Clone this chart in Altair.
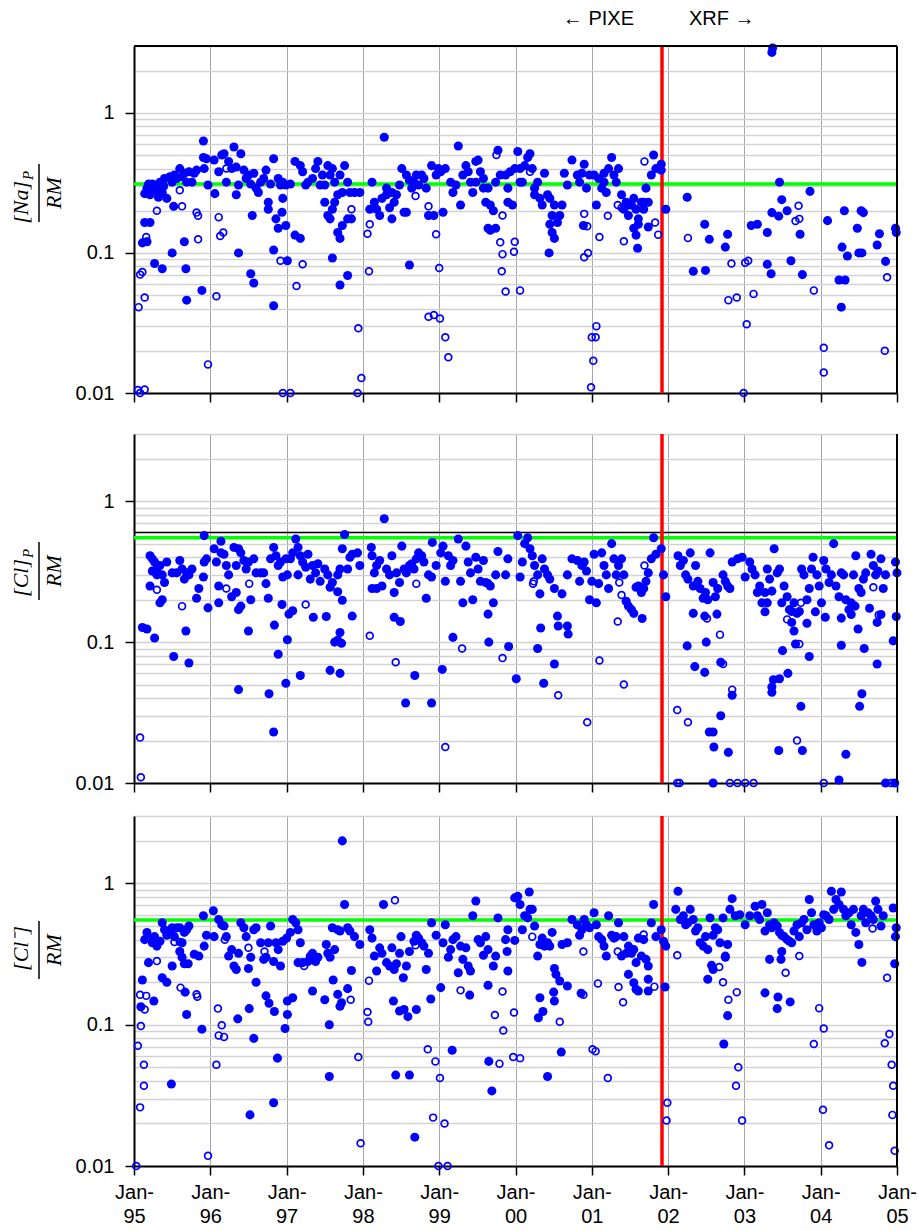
import altair as alt
import pandas as pd

# ---------------- data (decimal year, ratio) ----------------
na_filled = [
    (1995.14, .265), (1995.17, .29), (1995.21, .26), (1995.24, .31), (1995.27, .305), (1995.30, .28),
    (1995.34, .32), (1995.37, .27), (1995.40, .34), (1995.43, .245), (1995.50, .32), (1995.53, .36),
    (1995.60, .40), (1995.63, .35), (1995.66, .37), (1995.72, .38), (1995.76, .32), (1995.82, .39),
    (1995.92, .40), (1995.95, .47), (1995.91, .63), (1995.91, .48), (1995.14, .165), (1995.21, .165),
    (1995.11, .118), (1995.17, .12), (1995.27, .084), (1995.37, .077), (1995.50, .10), (1995.66, .12),
    (1995.68, .077), (1995.69, .046), (1995.89, .054), (1995.52, .215), (1995.97, .305), (1996.06, .265),
    (1995.19, .31), (1995.26, .28), (1995.32, .25), (1995.39, .30), (1995.47, .35), (1995.56, .34),
    (1995.69, .32), (1995.79, .37),
    (1996.05, .46), (1996.15, .50), (1996.18, .51), (1996.31, .57), (1996.40, .51), (1996.24, .45),
    (1996.28, .40), (1996.34, .41), (1996.44, .39), (1996.21, .32), (1996.34, .26), (1996.37, .305),
    (1996.50, .36), (1996.57, .37), (1996.60, .29), (1996.63, .27), (1996.70, .34), (1996.73, .39),
    (1996.76, .23), (1996.83, .47), (1996.79, .31), (1996.89, .34), (1996.92, .305), (1996.95, .245),
    (1996.95, .32), (1996.99, .305), (1996.55, .185), (1996.76, .205), (1996.94, .195), (1996.86, .175),
    (1996.89, .15), (1996.99, .157), (1996.37, .10), (1996.53, .071), (1996.57, .061), (1996.83, .105),
    (1996.83, .042), (1997.01, .088), (1996.11, .38), (1996.47, .34), (1996.53, .31), (1996.66, .32),
    (1997.05, .31), (1997.11, .45), (1997.18, .42), (1997.21, .38), (1997.25, .305), (1997.28, .32),
    (1997.34, .34), (1997.38, .40), (1997.41, .45), (1997.44, .305), (1997.47, .36), (1997.50, .305),
    (1997.54, .42), (1997.57, .36), (1997.60, .40), (1997.63, .32), (1997.67, .26), (1997.70, .36),
    (1997.73, .27), (1997.76, .42), (1997.80, .32), (1997.83, .27), (1997.89, .27), (1997.96, .27),
    (1997.50, .23), (1997.54, .185), (1997.57, .175), (1997.60, .205), (1997.63, .23), (1997.67, .14),
    (1997.70, .127), (1997.73, .157), (1997.80, .175), (1997.85, .175), (1997.11, .134), (1997.18, .127),
    (1997.60, .092), (1997.70, .059), (1997.80, .069),
    (1998.12, .32), (1998.15, .23), (1998.18, .205), (1998.22, .185), (1998.25, .245), (1998.28, .67),
    (1998.31, .26), (1998.38, .27), (1998.41, .23), (1998.44, .26), (1998.48, .305), (1998.51, .40),
    (1998.54, .195), (1998.57, .36), (1998.64, .29), (1998.67, .32), (1998.70, .36), (1998.77, .36),
    (1998.80, .34), (1998.83, .29), (1998.86, .185), (1998.90, .42), (1998.93, .185), (1998.96, .36),
    (1998.99, .40), (1998.38, .175), (1998.57, .195), (1998.61, .082), (1998.09, .205), (1998.35, .21),
    (1998.31, .29), (1998.73, .305), (1998.61, .33),
    (1999.02, .38), (1999.05, .195), (1999.08, .40), (1999.15, .32), (1999.18, .27), (1999.25, .58),
    (1999.28, .22), (1999.31, .36), (1999.35, .42), (1999.38, .38), (1999.41, .32), (1999.44, .27),
    (1999.48, .45), (1999.51, .46), (1999.54, .38), (1999.58, .34), (1999.61, .23), (1999.64, .29),
    (1999.67, .22), (1999.71, .20), (1999.74, .32), (1999.77, .54), (1999.80, .36), (1999.87, .36),
    (1999.90, .29), (1999.93, .38), (1999.96, .22), (1999.99, .40), (1999.64, .15), (1999.67, .145),
    (1999.74, .15), (1999.90, .23), (1999.22, .305), (1999.48, .32), (1999.58, .29),
    (2000.03, .53), (2000.06, .40), (2000.09, .32), (2000.12, .42), (2000.16, .48), (2000.19, .51),
    (2000.22, .40), (2000.25, .26), (2000.29, .32), (2000.32, .245), (2000.35, .22), (2000.38, .37),
    (2000.42, .26), (2000.45, .245), (2000.48, .185), (2000.51, .22), (2000.55, .165), (2000.58, .185),
    (2000.61, .22), (2000.64, .37), (2000.68, .305), (2000.74, .46), (2000.81, .36), (2000.84, .32),
    (2000.87, .37), (2000.90, .43), (2000.93, .29), (2000.97, .36), (2000.45, .16), (2000.48, .14),
    (2000.51, .127), (2000.44, .10), (2000.89, .157), (2000.25, .29), (2000.06, .32),
    (2001.03, .36), (2001.06, .22), (2001.09, .34), (2001.13, .29), (2001.16, .37), (2001.19, .27),
    (2001.22, .40), (2001.26, .48), (2001.29, .36), (2001.32, .32), (2001.35, .40), (2001.39, .26),
    (2001.42, .205), (2001.45, .23), (2001.48, .185), (2001.52, .22), (2001.55, .245), (2001.58, .205),
    (2001.61, .175), (2001.65, .23), (2001.68, .205), (2001.71, .29), (2001.74, .23), (2001.78, .36),
    (2001.81, .50), (2001.84, .40), (2001.91, .43), (2001.91, .39), (2001.55, .15), (2001.58, .134),
    (2001.61, .16), (2001.74, .153), (2001.60, .108), (2001.97, .205), (2001.48, .22), (2001.68, .23),
    (2001.16, .32),
    (2002.25, .25), (2002.33, .074), (2002.49, .075), (2002.48, .16), (2002.54, .125), (2002.75, .11),
    (2002.78, .136), (2003.09, .157), (2003.17, .16), (2003.30, .14), (2003.30, .083), (2003.35, .071),
    (2003.36, 2.7), (2003.37, 2.9), (2003.36, .194), (2003.45, .183), (2003.46, .32), (2003.49, .24),
    (2003.56, .20), (2003.61, .088), (2003.73, .136), (2003.76, .07), (2003.86, .275), (2004.09, .17),
    (2004.24, .064), (2004.32, .064), (2004.27, .041), (2004.28, .11), (2004.35, .095), (2004.31, .20),
    (2004.48, .15), (2004.50, .10), (2004.54, .10), (2004.53, .20), (2004.56, .194), (2004.74, .114),
    (2004.77, .137), (2004.85, .087), (2004.98, .15), (2004.99, .14),
]
na_open = [
    (1995.05, .0105), (1995.08, .01), (1995.14, .0106), (1995.06, .041), (1995.08, .07), (1995.11, .073),
    (1995.14, .048), (1995.16, .13), (1995.17, .12), (1995.30, .20), (1995.60, .28), (1995.63, .215),
    (1995.82, .194), (1995.84, .184), (1995.84, .125), (1995.97, .016), (1996.08, .049), (1996.11, .18),
    (1996.13, .132), (1996.17, .14), (1996.21, .40), (1996.92, .088), (1996.95, .01), (1997.05, .01),
    (1997.13, .058), (1997.21, .083), (1997.85, .205), (1997.94, .029), (1997.98, .0128), (1997.93, .01),
    (1998.06, .137), (1998.09, .16), (1998.08, .074), (1998.69, .255), (1998.86, .215), (1998.86, .035),
    (1998.93, .036), (1999.01, .034), (1998.96, .136), (1999.00, .078), (1999.08, .025), (1999.12, .018),
    (1999.75, .50), (1999.83, .185), (1999.80, .119), (1999.83, .098), (1999.82, .074), (1999.87, .053),
    (1999.99, .12), (1999.98, .102), (2000.06, .054), (2000.19, .38), (2000.90, .19), (2000.94, .155),
    (2000.90, .093), (2000.95, .10), (2001.00, .025), (2001.05, .025), (2001.06, .03), (2001.02, .017),
    (2000.99, .011), (2001.10, .13), (2001.21, .184), (2001.34, .22), (2001.39, .21), (2001.42, .121),
    (2001.69, .45), (2001.83, .165), (2001.87, .135), (2002.26, .128), (2002.83, .084), (2002.79, .046),
    (2002.90, .048), (2003.03, .031), (2003.01, .085), (2003.05, .088), (2003.12, .051), (2002.99, .01),
    (2003.67, .169), (2003.72, .175), (2003.71, .217), (2003.91, .054), (2004.04, .021), (2004.04, .014),
    (2004.84, .02), (2004.87, .067),
]

cl_filled = [
    (1995.11, .127), (1995.17, .124), (1995.27, .107), (1995.52, .079), (1995.72, .071), (1995.68, .12),
    (1995.21, .41), (1995.24, .39), (1995.27, .37), (1995.30, .33), (1995.34, .35), (1995.37, .30),
    (1995.40, .265), (1995.24, .32), (1995.30, .30), (1995.21, .25), (1995.34, .19), (1995.37, .20),
    (1995.43, .37), (1995.50, .31), (1995.56, .31), (1995.60, .38), (1995.63, .33), (1995.66, .28),
    (1995.69, .31), (1995.72, .30), (1995.76, .33), (1995.82, .205), (1995.85, .24), (1995.91, .29),
    (1995.92, .37), (1995.95, .39), (1995.97, .175), (1995.92, .57),
    (1996.05, .46), (1996.11, .19), (1996.14, .52), (1996.14, .43), (1996.18, .42), (1996.08, .37),
    (1996.11, .25), (1996.21, .35), (1996.24, .30), (1996.28, .21), (1996.31, .47), (1996.34, .35),
    (1996.37, .46), (1996.40, .43), (1996.34, .225), (1996.37, .17), (1996.40, .18), (1996.44, .38),
    (1996.47, .33), (1996.50, .37), (1996.53, .20), (1996.57, .39), (1996.60, .31), (1996.66, .31),
    (1996.70, .31), (1996.73, .26), (1996.76, .205), (1996.79, .39), (1996.83, .47), (1996.86, .41),
    (1996.89, .35), (1996.92, .37), (1996.95, .29), (1996.99, .39), (1996.50, .12), (1996.37, .046),
    (1996.77, .043), (1996.83, .023), (1996.84, .132), (1996.89, .082), (1996.94, .185), (1996.99, .051),
    (1997.01, .104),
    (1997.03, .158), (1997.08, .167), (1997.01, .30), (1997.05, .39), (1997.08, .43), (1997.12, .54),
    (1997.15, .47), (1997.18, .41), (1997.21, .37), (1997.25, .34), (1997.15, .30), (1997.28, .42),
    (1997.31, .28), (1997.34, .35), (1997.38, .31), (1997.41, .36), (1997.44, .27), (1997.50, .33),
    (1997.54, .30), (1997.57, .245), (1997.60, .265), (1997.67, .30), (1997.70, .33), (1997.73, .46),
    (1997.76, .58), (1997.80, .33), (1997.83, .40), (1997.86, .42), (1997.93, .43), (1997.96, .35),
    (1997.18, .058), (1997.35, .15), (1997.52, .152), (1997.57, .063), (1997.63, .10), (1997.67, .103),
    (1997.70, .117), (1997.72, .098), (1997.70, .06), (1997.67, .228), (1997.73, .198), (1997.86, .153),
    (1998.11, .47), (1998.12, .41), (1998.15, .31), (1998.18, .35), (1998.22, .38), (1998.25, .25),
    (1998.28, .75), (1998.31, .33), (1998.35, .30), (1998.38, .41), (1998.41, .225), (1998.44, .31),
    (1998.48, .265), (1998.51, .48), (1998.54, .33), (1998.57, .31), (1998.61, .35), (1998.64, .36),
    (1998.67, .33), (1998.70, .39), (1998.73, .43), (1998.77, .41), (1998.80, .37), (1998.83, .205),
    (1998.86, .30), (1998.90, .29), (1998.91, .51), (1998.96, .35), (1998.41, .15), (1998.49, .14),
    (1998.56, .037), (1998.68, .058), (1998.90, .037), (1998.18, .24), (1998.12, .24),
    (1999.02, .43), (1999.05, .48), (1999.08, .27), (1999.12, .41), (1999.15, .35), (1999.18, .38),
    (1999.25, .54), (1999.28, .27), (1999.31, .19), (1999.35, .48), (1999.38, .37), (1999.41, .31),
    (1999.44, .20), (1999.48, .40), (1999.51, .33), (1999.54, .27), (1999.58, .38), (1999.61, .265),
    (1999.64, .26), (1999.67, .25), (1999.71, .19), (1999.74, .30), (1999.77, .44), (1999.87, .30),
    (1999.90, .39), (1999.04, .064), (1999.18, .108), (1999.64, .158), (1999.65, .10), (1999.91, .093),
    (2000.01, .055),
    (2000.03, .57), (2000.06, .29), (2000.09, .37), (2000.12, .50), (2000.16, .55), (2000.19, .46),
    (2000.22, .41), (2000.25, .35), (2000.29, .30), (2000.32, .22), (2000.35, .39), (2000.38, .33),
    (2000.42, .30), (2000.45, .28), (2000.51, .24), (2000.61, .22), (2000.68, .30), (2000.74, .39),
    (2000.81, .38), (2000.84, .27), (2000.87, .35), (2000.90, .37), (2000.93, .32), (2000.97, .20),
    (2001.00, .27), (2000.33, .126), (2000.29, .09), (2000.37, .051), (2000.51, .07), (2000.55, .153),
    (2000.56, .13), (2000.68, .13), (2000.69, .114),
    (2001.03, .42), (2001.06, .19), (2001.09, .26), (2001.13, .43), (2001.16, .35), (2001.19, .30),
    (2001.22, .24), (2001.26, .50), (2001.29, .39), (2001.32, .30), (2001.35, .35), (2001.39, .39),
    (2001.42, .30), (2001.45, .195), (2001.48, .18), (2001.52, .17), (2001.55, .16), (2001.58, .245),
    (2001.61, .25), (2001.65, .225), (2001.68, .24), (2001.71, .27), (2001.74, .31), (2001.78, .39),
    (2001.81, .55), (2001.84, .42), (2001.91, .46), (2001.66, .147), (2001.97, .21), (2001.94, .30),
    (2002.13, .41), (2002.16, .35), (2002.20, .38), (2002.23, .30), (2002.26, .28), (2002.29, .43),
    (2002.33, .25), (2002.36, .35), (2002.39, .27), (2002.42, .24), (2002.46, .205), (2002.49, .225),
    (2002.52, .20), (2002.55, .43), (2002.59, .265), (2002.62, .21), (2002.65, .24), (2002.72, .30),
    (2002.75, .27), (2002.78, .25), (2002.81, .24), (2002.84, .37), (2002.91, .39), (2002.97, .40),
    (2003.01, .29), (2003.07, .37), (2003.10, .33), (2003.14, .30), (2003.17, .225), (2003.20, .25),
    (2003.23, .19), (2003.27, .225), (2003.30, .33), (2003.33, .28), (2003.36, .23), (2003.39, .46),
    (2003.43, .31), (2003.46, .33), (2003.49, .19), (2003.52, .25), (2003.56, .21), (2003.59, .17),
    (2003.62, .165), (2003.65, .19), (2003.69, .16), (2003.72, .165), (2003.75, .33), (2003.78, .30),
    (2003.82, .20), (2003.85, .24), (2003.88, .33), (2003.90, .40), (2003.95, .30), (2003.98, .25),
    (2004.01, .19), (2004.04, .38), (2004.07, .33), (2004.11, .265), (2004.14, .30), (2004.17, .50),
    (2004.20, .25), (2004.24, .21), (2004.27, .31), (2004.30, .30), (2004.33, .20), (2004.37, .17),
    (2004.40, .19), (2004.43, .30), (2004.46, .41), (2004.50, .24), (2004.53, .225), (2004.56, .28),
    (2004.59, .31), (2004.66, .42), (2004.69, .35), (2004.72, .30), (2004.75, .32), (2004.79, .39),
    (2004.82, .24), (2004.85, .30), (2004.98, .37), (2005.00, .31),
    (2002.33, .16), (2002.48, .153), (2002.64, .158), (2002.25, .094), (2002.35, .067), (2002.48, .061),
    (2002.50, .10), (2002.69, .072), (2002.84, .042), (2002.54, .023), (2002.59, .023), (2002.69, .03),
    (2002.60, .018), (2002.79, .0165), (2002.59, .01),
    (2003.27, .164), (2003.30, .19), (2003.36, .044), (2003.36, .048), (2003.38, .054), (2003.46, .055),
    (2003.45, .017), (2003.50, .087), (2003.57, .06), (2003.62, .138), (2003.65, .12), (2003.67, .097),
    (2003.74, .035), (2003.76, .017), (2003.82, .136), (2003.85, .079), (2003.93, .164), (2004.06, .15),
    (2004.27, .148), (2004.27, .095), (2004.33, .016), (2004.40, .157), (2004.45, .18), (2004.49, .124),
    (2004.51, .035), (2004.54, .043), (2004.57, .09), (2004.64, .174), (2004.74, .07), (2004.74, .138),
    (2004.79, .157), (2004.95, .102), (2004.99, .152), (2004.24, .0105), (2004.85, .01), (2004.97, .01),
]
cl_open = [
    (1995.08, .021), (1995.09, .011), (1995.30, .235), (1995.63, .18), (1996.21, .24), (1996.51, .26),
    (1997.25, .185), (1998.09, .111), (1998.43, .072), (1998.70, .26), (1999.08, .018), (1999.30, .09),
    (1999.83, .077), (2000.24, .27), (2000.23, .26), (2000.56, .042), (2000.94, .027), (2001.10, .074),
    (2001.36, .265), (2001.39, .216), (2001.34, .14), (2001.42, .05), (2001.69, .35), (2002.12, .033),
    (2002.15, .01), (2002.12, .01), (2002.26, .027), (2002.51, .147), (2002.68, .113), (2002.72, .07),
    (2002.84, .046), (2002.81, .01), (2002.91, .01), (2003.01, .01), (2003.12, .01), (2003.56, .145),
    (2003.69, .02), (2003.72, .097), (2003.74, .19), (2004.04, .01), (2004.76, .156), (2004.69, .245),
    (2004.92, .01),
]

clm_filled = [
    (1995.11, .207), (1995.09, .134), (1995.26, .147), (1995.19, .275),
    (1995.14, .40), (1995.17, .45), (1995.21, .41), (1995.24, .38), (1995.27, .42), (1995.30, .36),
    (1995.34, .39), (1995.37, .527), (1995.40, .47), (1995.43, .43), (1995.47, .46), (1995.50, .485),
    (1995.53, .42), (1995.56, .485), (1995.60, .485), (1995.63, .38), (1995.66, .45), (1995.69, .47),
    (1995.72, .50), (1995.37, .215), (1995.43, .20), (1995.50, .26), (1995.60, .33), (1995.63, .30),
    (1995.66, .27), (1995.71, .27), (1995.67, .17), (1995.69, .118), (1995.49, .038), (1995.79, .315),
    (1995.85, .306), (1995.89, .093), (1995.91, .59), (1996.04, .64), (1995.92, .36), (1995.95, .43),
    (1996.05, .42), (1996.11, .556), (1996.15, .51), (1996.18, .50), (1996.21, .42), (1996.24, .306),
    (1996.28, .34), (1996.31, .26), (1996.34, .246), (1996.37, .32), (1996.40, .527), (1996.44, .485),
    (1996.47, .42), (1996.50, .25), (1996.53, .30), (1996.57, .47), (1996.60, .485), (1996.66, .38),
    (1996.70, .29), (1996.73, .30), (1996.76, .38), (1996.79, .50), (1996.83, .28), (1996.86, .38),
    (1996.89, .34), (1996.92, .26), (1996.95, .39), (1996.36, .11), (1996.51, .13), (1996.60, .20),
    (1996.57, .08), (1996.52, .023), (1996.73, .16), (1996.77, .142), (1996.84, .124), (1996.88, .058),
    (1996.83, .028), (1996.98, .094), (1997.01, .118),
    (1997.01, .147), (1997.08, .155), (1997.00, .41), (1997.05, .45), (1997.08, .556), (1997.12, .527),
    (1997.15, .47), (1997.18, .38), (1997.15, .275), (1997.21, .275), (1997.28, .28), (1997.31, .306),
    (1997.34, .32), (1997.38, .28), (1997.41, .30), (1997.52, .37), (1997.54, .32), (1997.57, .30),
    (1997.60, .485), (1997.63, .34), (1997.67, .47), (1997.70, .46), (1997.76, .71), (1997.80, .485),
    (1997.83, .46), (1997.89, .42), (1997.96, .37), (1997.73, 2.0), (1997.34, .173), (1997.50, .15),
    (1997.56, .10), (1997.56, .043), (1997.61, .207), (1997.67, .164), (1997.70, .135), (1997.72, .143),
    (1997.80, .18), (1997.85, .242),
    (1998.09, .47), (1998.12, .41), (1998.15, .306), (1998.18, .24), (1998.22, .35), (1998.25, .32),
    (1998.27, .71), (1998.31, .275), (1998.35, .26), (1998.38, .35), (1998.41, .246), (1998.44, .27),
    (1998.48, .32), (1998.50, .42), (1998.53, .215), (1998.57, .26), (1998.61, .33), (1998.67, .39),
    (1998.70, .43), (1998.73, .41), (1998.77, .38), (1998.80, .36), (1998.83, .246), (1998.86, .32),
    (1998.90, .527), (1998.96, .43), (1998.40, .147), (1998.48, .125), (1998.54, .128), (1998.59, .114),
    (1998.70, .128), (1998.43, .044), (1998.61, .044), (1998.68, .016), (1998.89, .152),
    (1999.02, .183), (1999.05, .38), (1999.08, .51), (1999.12, .30), (1999.15, .34), (1999.18, .40),
    (1999.22, .42), (1999.25, .233), (1999.28, .36), (1999.31, .29), (1999.35, .35), (1999.38, .26),
    (1999.41, .24), (1999.44, .59), (1999.48, .75), (1999.51, .40), (1999.54, .38), (1999.58, .31),
    (1999.61, .42), (1999.64, .34), (1999.71, .26), (1999.74, .306), (1999.77, .57), (1999.87, .40),
    (1999.90, .47), (1999.17, .066), (1999.40, .162), (1999.64, .19), (1999.65, .055), (1999.69, .034),
    (1999.90, .24), (1999.89, .33),
    (1999.99, .395), (2000.03, .81), (2000.06, .71), (2000.09, .47), (2000.12, .59), (2000.16, .57),
    (2000.19, .655), (2000.22, .655), (2000.25, .50), (2000.29, .306), (2000.32, .37), (2000.35, .41),
    (2000.38, .36), (2000.42, .38), (2000.45, .36), (2000.48, .45), (2000.51, .25), (2000.53, .227),
    (2000.58, .204), (2000.61, .37), (2000.68, .38), (2000.74, .556), (2000.81, .51), (2000.84, .43),
    (2000.87, .47), (2000.90, .556), (2000.93, .51), (2000.97, .485), (2000.18, .87), (1999.99, .79),
    (2000.30, .112), (2000.32, .155), (2000.36, .124), (2000.50, .17), (2000.51, .147), (2000.42, .043),
    (2000.60, .064), (2000.68, .188), (2000.86, .167),
    (2001.03, .62), (2001.06, .51), (2001.09, .42), (2001.13, .40), (2001.16, .36), (2001.19, .306),
    (2001.22, .59), (2001.26, .43), (2001.29, .41), (2001.32, .42), (2001.35, .527), (2001.39, .306),
    (2001.42, .42), (2001.45, .32), (2001.48, .36), (2001.52, .32), (2001.55, .34), (2001.58, .275),
    (2001.61, .41), (2001.65, .306), (2001.68, .40), (2001.71, .29), (2001.74, .26), (2001.78, .527),
    (2001.81, .71), (2001.84, .42), (2001.91, .47), (2001.94, .39), (2001.97, .36), (2001.48, .227),
    (2001.55, .198), (2001.58, .178), (2001.61, .173), (2001.74, .21), (2001.74, .173), (2001.96, .185),
    (2002.10, .655), (2002.13, .88), (2002.16, .556), (2002.20, .59), (2002.23, .51), (2002.26, .527),
    (2002.29, .655), (2002.33, .556), (2002.36, .46), (2002.39, .485), (2002.42, .38), (2002.46, .36),
    (2002.49, .42), (2002.52, .34), (2002.55, .57), (2002.59, .43), (2002.62, .485), (2002.65, .47),
    (2002.68, .38), (2002.72, .57), (2002.75, .306), (2002.78, .37), (2002.81, .655), (2002.84, .78),
    (2002.88, .59), (2002.94, .60), (2003.01, .51), (2003.07, .59), (2003.14, .69), (2003.17, .59),
    (2003.20, .556), (2003.23, .71), (2003.27, .46), (2003.30, .62), (2003.33, .51), (2003.36, .485),
    (2003.39, .527), (2003.43, .50), (2003.46, .45), (2003.49, .43), (2003.52, .42), (2003.56, .40),
    (2003.59, .39), (2003.62, .38), (2003.65, .46), (2003.69, .51), (2003.72, .42), (2003.75, .527),
    (2003.78, .556), (2003.82, .47), (2003.85, .77), (2003.88, .62), (2003.91, .51), (2003.95, .46),
    (2003.98, .527), (2004.01, .485), (2004.04, .60), (2004.07, .59), (2004.11, .556), (2004.14, .88),
    (2004.17, .655), (2004.20, .77), (2004.24, .71), (2004.27, .87), (2004.30, .655), (2004.33, .59),
    (2004.37, .62), (2004.40, .51), (2004.43, .655), (2004.46, .45), (2004.50, .37), (2004.53, .59),
    (2004.56, .655), (2004.59, .527), (2004.62, .62), (2004.66, .59), (2004.69, .556), (2004.72, .75),
    (2004.75, .655), (2004.79, .50), (2004.82, .59), (2004.95, .67), (2004.98, .42), (2004.99, .485),
    (2002.52, .21), (2002.57, .263), (2002.59, .246), (2002.75, .30), (2002.78, .116), (2002.73, .073),
    (2003.27, .168), (2003.44, .157), (2003.43, .13), (2003.60, .145), (2003.33, .29), (2003.48, .29),
    (2003.49, .33), (2004.54, .276), (2004.97, .27),
]
clm_open = [
    (1995.03, .01), (1995.08, .026), (1995.13, .037), (1995.13, .052), (1995.05, .071), (1995.09, .098),
    (1995.08, .163), (1995.16, .16), (1995.14, .128), (1995.30, .282), (1995.53, .385), (1995.60, .385),
    (1995.61, .183), (1995.82, .164), (1995.83, .158), (1995.97, .0118), (1996.10, .13), (1996.11, .084),
    (1996.18, .082), (1996.15, .099), (1996.08, .052), (1996.19, .40), (1996.50, .35), (1996.71, .33),
    (1997.23, .26), (1997.84, .15), (1997.97, .0145), (1997.94, .059), (1998.06, .123), (1998.07, .105),
    (1998.08, .205), (1998.42, .76), (1998.69, .365), (1998.85, .067), (1998.95, .055), (1998.92, .022),
    (1998.99, .01), (1999.11, .01), (1999.01, .042), (1999.07, .02), (1999.28, .175), (1999.73, .117),
    (1999.79, .053), (1999.84, .091), (1999.83, .172), (1999.97, .059), (2000.06, .058), (1999.98, .122),
    (2000.22, .42), (2000.58, .105), (2000.89, .33), (2000.89, .163), (2001.01, .067), (2001.05, .065),
    (2001.08, .196), (2001.21, .042), (2001.34, .33), (2001.35, .185), (2001.41, .144), (2001.68, .435),
    (2001.82, .186), (2001.99, .028), (2001.98, .021), (2002.12, .31), (2002.67, .256), (2002.72, .20),
    (2002.79, .15), (2002.90, .17), (2002.92, .05), (2002.89, .037), (2002.97, .021), (2003.54, .233),
    (2003.72, .306), (2003.98, .131), (2004.04, .094), (2003.91, .073), (2004.03, .025), (2004.11, .014),
    (2004.68, .48), (2004.87, .215), (2004.90, .086), (2004.84, .074), (2004.93, .052), (2004.95, .037),
    (2004.94, .023), (2004.97, .0128),
]

years = list(range(1995, 2006))
grid_levels = [0.01, 0.02, 0.03, 0.04, 0.05, 0.06, 0.07, 0.08, 0.09,
               0.1, 0.2, 0.3, 0.4, 0.5, 0.6, 0.7, 0.8, 0.9, 1, 2, 3]
ref_levels = [0.31, 0.55, 0.55]      # green reference lines
cl_black_level = 0.6                 # thin black line in the middle panel
switch_year = 2001.92                # PIXE -> XRF change (red line)

# ---------------- styling ----------------
W = 763
BLUE = "#0000ff"
SANS = "Liberation Sans"
SERIF = "Liberation Serif"
FS = 20

xscale = alt.Scale(domain=[1995, 2005], nice=False, zero=False)
yscale = alt.Scale(type="log", domain=[0.01, 3], nice=False)
major_test = "datum.value == 1 || datum.value == 0.1 || datum.value == 0.01"


def panel(filled, opened, ref, H, numer, sub, label_cy, show_labels, top_border, black=None, header=False):
    df = pd.DataFrame(
        [{"t": t, "v": v, "kind": "fill"} for t, v in filled]
        + [{"t": t, "v": v, "kind": "open"} for t, v in opened]
    )
    one = pd.DataFrame({"a": [0]})
    sw = pd.DataFrame({"t": [switch_year]})

    xaxis = alt.Axis(
        values=years, grid=True, gridColor="#a6a6a6", gridWidth=1,
        domainColor="black", domainWidth=2, tickColor="black", tickWidth=1.5, tickSize=9,
        labels=show_labels, labelExpr="['Jan-', substring(toString(datum.value), 2, 4)]",
        labelFont=SANS, labelFontSize=FS, labelColor="black", labelLineHeight=24,
        labelPadding=7, labelBaseline="top", labelFlush=False, labelOverlap=False, title=None,
    )
    yaxis = alt.Axis(
        values=grid_levels, grid=True, gridColor="#d2d2d2", gridWidth=1.5,
        domainColor="black", domainWidth=2, tickSize=9, tickWidth=1.5,
        tickColor={"condition": {"test": major_test, "value": "black"}, "value": "transparent"},
        labelExpr="datum.value == 1 ? '1' : datum.value == 0.1 ? '0.1' : datum.value == 0.01 ? '0.01' : ''",
        labelFont=SANS, labelFontSize=FS, labelColor="black", labelPadding=11,
        labelOverlap=False, labelFlush=False, title=None,
    )

    base = alt.Chart(df)
    pts_f = base.transform_filter(alt.datum.kind == "fill").mark_circle(
        size=82, color=BLUE, opacity=1
    ).encode(
        x=alt.X("t:Q", scale=xscale, axis=xaxis),
        y=alt.Y("v:Q", scale=yscale, axis=yaxis),
    )
    pts_o = base.transform_filter(alt.datum.kind == "open").mark_point(
        shape="circle", filled=False, size=46, strokeWidth=1.7, color=BLUE, opacity=1
    ).encode(x="t:Q", y="v:Q")

    green = alt.Chart(pd.DataFrame({"v": [ref]})).mark_rule(
        color="#00ff00", strokeWidth=3.5
    ).encode(y="v:Q")
    red = alt.Chart(sw).mark_rule(color="#ff0000", strokeWidth=3.5).encode(x="t:Q")

    layers = []
    if black is not None:
        layers.append(alt.Chart(pd.DataFrame({"v": [black]})).mark_rule(
            color="black", strokeWidth=1.5).encode(y="v:Q"))
    layers += [green, red, pts_o, pts_f]

    # frame
    layers.append(alt.Chart(one).mark_rule(color="black", strokeWidth=2).encode(
        x=alt.value(W), y=alt.value(0), y2=alt.value(H)))
    if top_border:
        layers.append(alt.Chart(one).mark_rule(color="black", strokeWidth=2).encode(
            x=alt.value(0), x2=alt.value(W), y=alt.value(0)))

    # rotated fraction label
    layers.append(alt.Chart(one).mark_text(
        text=numer, angle=270, align="right", baseline="middle",
        font=SERIF, fontStyle="italic", fontSize=22, color="black"
    ).encode(x=alt.value(-113), y=alt.value(label_cy - 12 if sub else label_cy - 24)))
    if sub:
        layers.append(alt.Chart(one).mark_text(
            text=sub, angle=270, align="left", baseline="middle",
            font=SERIF, fontStyle="italic", fontSize=15, color="black"
        ).encode(x=alt.value(-106), y=alt.value(label_cy - 13)))
    layers.append(alt.Chart(one).mark_rule(color="black", strokeWidth=1.5).encode(
        x=alt.value(-95), y=alt.value(label_cy - 29), y2=alt.value(label_cy + 29)))
    layers.append(alt.Chart(one).mark_text(
        text="RM", angle=270, align="center", baseline="middle",
        font=SERIF, fontStyle="italic", fontSize=22, color="black"
    ).encode(x=alt.value(-80), y=alt.value(label_cy)))

    if header:
        layers.append(alt.Chart(sw).mark_text(
            text="\u2190 PIXE", align="right", baseline="middle", dx=-28,
            font=SANS, fontSize=FS, color="black"
        ).encode(x="t:Q", y=alt.value(-27)))
        layers.append(alt.Chart(sw).mark_text(
            text="XRF \u2192", align="left", baseline="middle", dx=27,
            font=SANS, fontSize=FS, color="black"
        ).encode(x="t:Q", y=alt.value(-27)))

    return alt.layer(*layers).properties(width=W, height=H)


p1 = panel(na_filled, na_open, ref_levels[0], 347, "[Na]", "P", 147, False, True, header=True)
p2 = panel(cl_filled, cl_open, ref_levels[1], 349, "[Cl]", "P", 137, False, False, black=cl_black_level)
p3 = panel(clm_filled, clm_open, ref_levels[2], 350, "[Cl\u207b]", None, 134, True, False)

chart = alt.vconcat(p1, alt.vconcat(p2, p3, spacing=13), spacing=21).properties(
    padding={"left": 10, "top": 9, "right": 0, "bottom": 0},
    background="white",
).configure_view(stroke=None)

chart.save("out.html", embed_options={"renderer": "svg", "actions": False})
